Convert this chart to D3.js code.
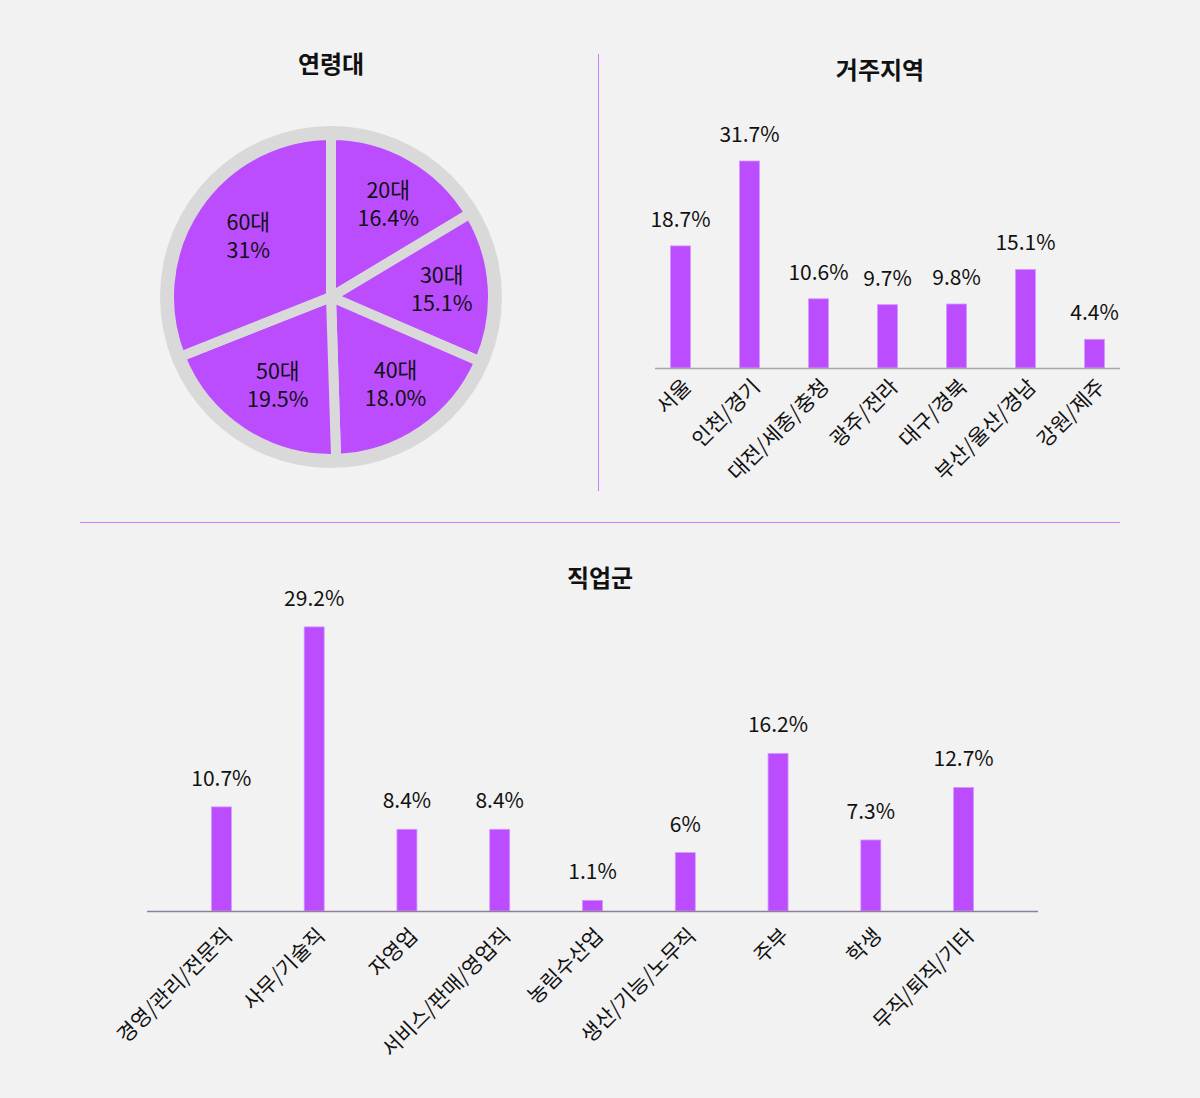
<!DOCTYPE html>
<html>
  <head>
    <meta charset=utf-8 />
    <title>설문 응답자 특성</title>
    <script src="https://cdn.jsdelivr.net/npm/d3@7"></script>
    <style>
      body { margin: 0; background: #f2f2f2; }
      text { font-family: "Noto Sans CJK KR", "Noto Sans", sans-serif; fill: #111; }
    </style>
  </head>
  <body>
    <div id="main-container"></div>
    <script>

  // 연령대
  var ageLabels = ["20대", "30대", "40대", "50대", "60대"];
  var ageValues = [16.4, 15.1, 18.0, 19.5, 31];
  var ageText   = ["16.4%", "15.1%", "18.0%", "19.5%", "31%"];

  // 거주지역
  var regionLabels = ["서울", "인천/경기", "대전/세종/충청", "광주/전라", "대구/경북", "부산/울산/경남", "강원/제주"];
  var regionValues = [18.7, 31.7, 10.6, 9.7, 9.8, 15.1, 4.4];

  // 직업군
  var jobLabels = ["경영/관리/전문직", "사무/기술직", "자영업", "서비스/판매/영업직", "농림수산업", "생산/기능/노무직", "주부", "학생", "무직/퇴직/기타"];
  var jobValues = [10.7, 29.2, 8.4, 8.4, 1.1, 6, 16.2, 7.3, 12.7];

  var width = 1200, height = 1098;
  var purple = "#bb4dff";

  var svg = d3.select('#main-container').append('svg')
    .attr('width', width)
    .attr('height', height);

  svg.append('rect').attr('width', width).attr('height', height).attr('fill', '#f2f2f2');

  // dividers
  svg.append('line').attr('x1', 598.5).attr('x2', 598.5).attr('y1', 54).attr('y2', 491)
    .attr('stroke', '#c77dff').attr('stroke-width', 1);
  svg.append('line').attr('x1', 80).attr('x2', 1120).attr('y1', 522.5).attr('y2', 522.5)
    .attr('stroke', '#c77dff').attr('stroke-width', 1);

  function title(x, y, t){
    svg.append('text').attr('x', x).attr('y', y).attr('text-anchor', 'middle')
      .attr('font-size', 24).attr('font-weight', 700).text(t);
  }
  title(331, 73, "연령대");
  title(880, 79, "거주지역");
  title(600, 587, "직업군");

  // ---- pie ----
  var cx = 331, cy = 297;
  var pieG = svg.append('g').attr('transform', 'translate(' + cx + ',' + cy + ')');
  pieG.append('circle').attr('r', 171).attr('fill', '#d9d9d9');

  var pie = d3.pie().sort(null).value(function(d){ return d; });
  var arc = d3.arc().innerRadius(0).outerRadius(162);
  var labelArc = d3.arc().innerRadius(106).outerRadius(106);
  var arcs = pie(ageValues);

  pieG.selectAll('path').data(arcs).enter().append('path')
    .attr('d', arc)
    .attr('fill', purple)
    .attr('stroke', '#d9d9d9')
    .attr('stroke-width', 10)
    .attr('stroke-linejoin', 'round');

  var lbl = pieG.selectAll('text.lbl').data(arcs).enter().append('text')
    .attr('class', 'lbl')
    .attr('text-anchor', 'middle')
    .attr('font-size', 21.5)
    .attr('transform', function(d){
      var c = labelArc.centroid(d);
      return 'translate(' + (c[0] + 5) + ',' + (c[1] - 2) + ')';
    });
  lbl.append('tspan').attr('x', 0).attr('y', -5).text(function(d, i){ return ageLabels[i]; });
  lbl.append('tspan').attr('x', 0).attr('y', 23).text(function(d, i){ return ageText[i]; });

  // ---- bar charts ----
  function barChart(opts){
    var x = d3.scaleBand().domain(opts.labels).range(opts.xRange);
    var y = d3.scaleLinear().domain([0, opts.yMax]).range([opts.base, opts.base - opts.yMax * opts.pxPer]);
    var g = svg.append('g');
    var data = opts.labels.map(function(l, i){ return {label: l, value: opts.values[i]}; });

    g.selectAll('rect').data(data).enter().append('rect')
      .attr('x', function(d){ return x(d.label) + x.bandwidth()/2 - 10; })
      .attr('width', 20)
      .attr('y', function(d){ return y(d.value); })
      .attr('height', function(d){ return opts.base - y(d.value); })
      .attr('fill', purple)
      .attr('stroke', '#d49aff')
      .attr('stroke-width', 0.8);

    g.append('line').attr('x1', opts.lineX[0]).attr('x2', opts.lineX[1])
      .attr('y1', opts.base + 0.5).attr('y2', opts.base + 0.5)
      .attr('stroke', opts.lineColor).attr('stroke-width', 1.5);

    g.selectAll('text.val').data(data).enter().append('text')
      .attr('class', 'val')
      .attr('text-anchor', 'middle')
      .attr('font-size', 21)
      .attr('x', function(d){ return x(d.label) + x.bandwidth()/2; })
      .attr('y', function(d){ return y(d.value) - opts.valOff; })
      .text(function(d){ return d.value + '%'; });

    g.selectAll('text.cat').data(data).enter().append('text')
      .attr('class', 'cat')
      .attr('text-anchor', 'end')
      .attr('font-size', 21)
      .attr('transform', function(d){
        return 'translate(' + (x(d.label) + x.bandwidth()/2 + 12) + ',' + (opts.base + opts.labelOff) + ') rotate(-45)';
      })
      .text(function(d){ return d.label; });
  }

  barChart({
    labels: regionLabels, values: regionValues, xRange: [646, 1129],
    base: 368, yMax: 35, pxPer: 6.53, lineX: [655, 1120], lineColor: '#a6a6a6', labelOff: 20, valOff: 19
  });

  barChart({
    labels: jobLabels, values: jobValues, xRange: [175, 1010],
    base: 911, yMax: 30, pxPer: 9.73, lineX: [147, 1038], lineColor: '#8f7f9c', labelOff: 26, valOff: 21
  });

</script>
  </body>
</html>
